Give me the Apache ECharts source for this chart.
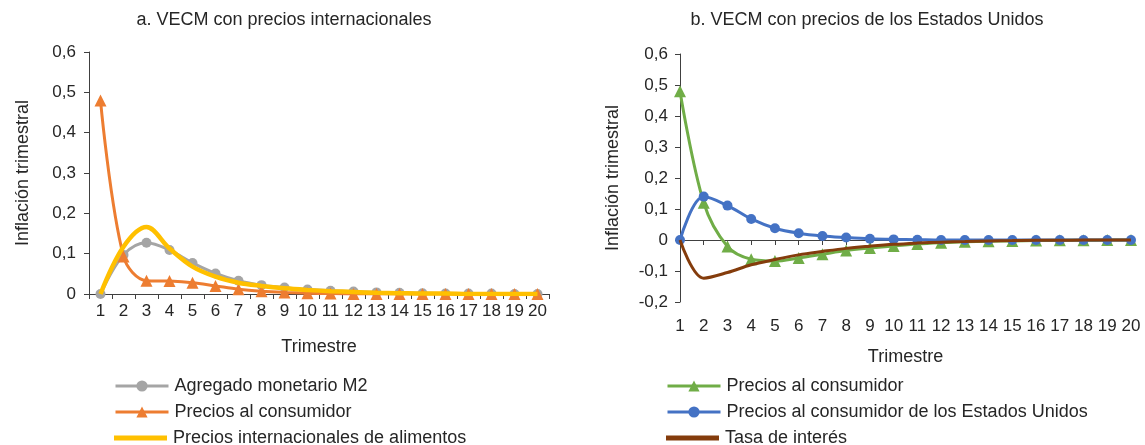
<!DOCTYPE html>
<html>
<head>
<meta charset="utf-8">
<script src="https://cdn.jsdelivr.net/npm/echarts@6/dist/echarts.min.js"></script>
<style>
html,body{margin:0;padding:0;background:#fff;}
#chart{width:1145px;height:445px;}
</style>
</head>
<body>
<div id="chart"></div>
<script>
const quarters = ['1','2','3','4','5','6','7','8','9','10','11','12','13','14','15','16','17','18','19','20'];

// Panel a
const m2 = [0, 0.097, 0.127, 0.109, 0.077, 0.051, 0.033, 0.022, 0.016, 0.011, 0.008, 0.006, 0.004, 0.003, 0.002, 0.001, 0.001, 0.001, 0.000, 0.000];
const cpiA = [0.48, 0.093, 0.033, 0.032, 0.028, 0.020, 0.012, 0.007, 0.004, 0.002, 0.001, 0.000, 0.000, 0.000, 0.000, 0.000, 0.000, 0.000, 0.000, 0.000];
const foodPrices = [0, 0.117, 0.166, 0.113, 0.068, 0.043, 0.028, 0.020, 0.014, 0.010, 0.007, 0.005, 0.003, 0.002, 0.001, 0.001, 0.000, 0.000, 0.000, 0.000];

// Panel b
const cpiB = [0.48, 0.12, -0.021, -0.062, -0.068, -0.058, -0.046, -0.034, -0.026, -0.019, -0.013, -0.009, -0.006, -0.004, -0.003, -0.002, -0.001, -0.001, 0.000, 0.000];
const cpiUS = [0, 0.14, 0.111, 0.068, 0.038, 0.022, 0.013, 0.008, 0.004, 0.002, 0.001, 0.000, 0.000, 0.000, 0.000, 0.000, 0.000, 0.000, 0.000, 0.000];
const interest = [0, -0.123, -0.105, -0.080, -0.063, -0.048, -0.037, -0.027, -0.020, -0.014, -0.010, -0.007, -0.005, -0.003, -0.002, -0.001, -0.001, 0.000, 0.000, 0.000];

const yTicksA = ['0','0,1','0,2','0,3','0,4','0,5','0,6'];
const yTicksB = ['-0,2','-0,1','0','0,1','0,2','0,3','0,4','0,5','0,6'];

const titleA = 'a. VECM con precios internacionales';
const titleB = 'b. VECM con precios de los Estados Unidos';
const yName = 'Inflación trimestral';
const xName = 'Trimestre';
const namesA = ['Agregado monetario M2', 'Precios al consumidor', 'Precios internacionales de alimentos'];
const namesB = ['Precios al consumidor\u200B', 'Precios al consumidor de los Estados Unidos', 'Tasa de interés'];

const colorsA = ['#A5A5A5', '#ED7D31', '#FFC000'];
const colorsB = ['#70AD47', '#4472C4', '#843C0C'];

const FONT = '"Liberation Sans", Arial, sans-serif';
const TXT = '#262626';
const AX = '#404040';
const TICK_FS = 17;
const TEXT_FS = 18;

function fmtTick(ticks, min) {
  return v => {
    const i = Math.round((v - min) / 0.1);
    return ticks[i] !== undefined ? ticks[i] : '';
  };
}

const rowY = [386, 412, 438];
function legendItem(name, left, row, lineOnly) {
  const h = lineOnly ? 5 : 14;
  return {
    orient: 'horizontal', left: left, top: rowY[row] - 11, padding: 0,
    itemWidth: 53, itemHeight: h, itemGap: 0,
    selectedMode: false,
    data: [lineOnly ? {name: name, icon: 'rect'} : name],
    lineStyle: {width: 3},
    formatter: n => n.replace('\u200B', ''),
    textStyle: {fontFamily: FONT, fontSize: TEXT_FS, color: TXT, padding: [0, 0, 0, 1], lineHeight: 22}
  };
}

const chart = echarts.init(document.getElementById('chart'), null, {renderer: 'canvas'});

const option = {
  backgroundColor: '#fff',
  animation: false,
  textStyle: {fontFamily: FONT, color: TXT},
  title: [
    {text: titleA, left: 279, top: 6, textAlign: 'center', textStyle: {fontFamily: FONT, fontSize: TEXT_FS, fontWeight: 'normal', color: TXT}},
    {text: titleB, left: 862, top: 6, textAlign: 'center', textStyle: {fontFamily: FONT, fontSize: TEXT_FS, fontWeight: 'normal', color: TXT}}
  ],
  grid: [
    {left: 89, right: 596, top: 52, bottom: 151, containLabel: false},
    {left: 680, right: 14, top: 54, bottom: 143, containLabel: false}
  ],
  legend: [
    legendItem(namesA[0], 114, 0, false),
    legendItem(namesA[1], 114, 1, false),
    legendItem(namesA[2], 114, 2, true),
    legendItem(namesB[0], 666, 0, false),
    legendItem(namesB[1], 666, 1, false),
    legendItem(namesB[2], 666, 2, true)
  ],
  xAxis: [
    {
      gridIndex: 0, type: 'category', data: quarters, boundaryGap: true,
      name: xName, nameLocation: 'middle', nameGap: 44,
      nameTextStyle: {fontFamily: FONT, fontSize: TEXT_FS, color: TXT},
      axisLine: {show: true, lineStyle: {color: AX, width: 1}},
      axisTick: {show: true, alignWithLabel: false, length: 5, lineStyle: {color: AX}},
      axisLabel: {fontFamily: FONT, fontSize: TICK_FS, color: TXT, margin: 9, interval: 0}
    },
    {
      gridIndex: 1, type: 'category', data: quarters, boundaryGap: false,
      axisLine: {show: true, onZero: true, lineStyle: {color: AX, width: 1}},
      axisTick: {show: true, length: 5, interval: 0, lineStyle: {color: AX}},
      axisLabel: {show: false}
    },
    {
      gridIndex: 1, type: 'category', data: quarters, boundaryGap: false, position: 'bottom',
      name: xName, nameLocation: 'middle', nameGap: 46,
      nameTextStyle: {fontFamily: FONT, fontSize: TEXT_FS, color: TXT},
      axisLine: {show: false, onZero: false},
      axisTick: {show: false},
      axisLabel: {fontFamily: FONT, fontSize: TICK_FS, color: TXT, margin: 16, interval: 0}
    }
  ],
  yAxis: [
    {
      gridIndex: 0, type: 'value', min: 0, max: 0.6, interval: 0.1,
      name: yName, nameLocation: 'middle', nameGap: 57, nameRotate: 90,
      nameTextStyle: {fontFamily: FONT, fontSize: TEXT_FS, color: TXT},
      axisLine: {show: true, lineStyle: {color: AX, width: 1}},
      axisTick: {show: true, length: 5, lineStyle: {color: AX}},
      splitLine: {show: false},
      axisLabel: {fontFamily: FONT, fontSize: TICK_FS, color: TXT, margin: 13, formatter: fmtTick(yTicksA, 0)}
    },
    {
      gridIndex: 1, type: 'value', min: -0.2, max: 0.6, interval: 0.1,
      name: yName, nameLocation: 'middle', nameGap: 58, nameRotate: 90,
      nameTextStyle: {fontFamily: FONT, fontSize: TEXT_FS, color: TXT},
      axisLine: {show: true, onZero: false, lineStyle: {color: AX, width: 1}},
      axisTick: {show: true, length: 5, lineStyle: {color: AX}},
      splitLine: {show: false},
      axisLabel: {fontFamily: FONT, fontSize: TICK_FS, color: TXT, margin: 12, formatter: fmtTick(yTicksB, -0.2)}
    }
  ],
  series: [
    {
      name: namesA[0], type: 'line', xAxisIndex: 0, yAxisIndex: 0, data: m2,
      smooth: 0.35, symbol: 'circle', symbolSize: 10, z: 2,
      lineStyle: {color: colorsA[0], width: 3}, itemStyle: {color: colorsA[0]}
    },
    {
      name: namesA[1], type: 'line', xAxisIndex: 0, yAxisIndex: 0, data: cpiA,
      smooth: 0.35, symbol: 'triangle', symbolSize: 12, z: 3,
      lineStyle: {color: colorsA[1], width: 3}, itemStyle: {color: colorsA[1]}
    },
    {
      name: namesA[2], type: 'line', xAxisIndex: 0, yAxisIndex: 0, data: foodPrices,
      smooth: 0.35, symbol: 'none', z: 4,
      lineStyle: {color: colorsA[2], width: 4.5}, itemStyle: {color: colorsA[2]}
    },
    {
      name: namesB[0], type: 'line', xAxisIndex: 1, yAxisIndex: 1, data: cpiB,
      smooth: 0.35, symbol: 'triangle', symbolSize: 12, z: 2,
      lineStyle: {color: colorsB[0], width: 3}, itemStyle: {color: colorsB[0]}
    },
    {
      name: namesB[1], type: 'line', xAxisIndex: 1, yAxisIndex: 1, data: cpiUS,
      smooth: 0.35, symbol: 'circle', symbolSize: 10, z: 3,
      lineStyle: {color: colorsB[1], width: 3}, itemStyle: {color: colorsB[1]}
    },
    {
      name: namesB[2], type: 'line', xAxisIndex: 1, yAxisIndex: 1, data: interest,
      smooth: 0.35, symbol: 'none', z: 4,
      lineStyle: {color: colorsB[2], width: 3}, itemStyle: {color: colorsB[2]}
    }
  ]
};
chart.setOption(option);
</script>
</body>
</html>
